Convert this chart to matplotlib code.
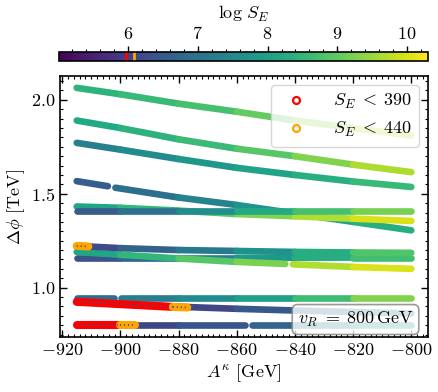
import numpy as np
import matplotlib
matplotlib.use("Agg")
import matplotlib.pyplot as plt
from matplotlib.collections import LineCollection
from matplotlib.lines import Line2D
from matplotlib.ticker import MultipleLocator

plt.rcParams.update({
    "font.family": "serif",
    "font.serif": ["cmr10"],
    "mathtext.fontset": "cm",
    "axes.formatter.use_mathtext": True,
    "font.size": 13,
})

# --- datos: A^kappa [GeV], Delta phi [TeV], log S_E ---
A = [-915, -900, -880, -860, -840, -820, -800]

dphi_1 = [2.064, 2.030, 1.980, 1.937, 1.890, 1.850, 1.810]
logS_1 = [8.35, 8.50, 8.65, 8.85, 9.20, 9.60, 9.90]

dphi_2 = [1.890, 1.850, 1.790, 1.740, 1.700, 1.655, 1.615]
logS_2 = [8.10, 8.30, 8.50, 8.70, 9.10, 9.50, 9.80]

dphi_3 = [1.771, 1.735, 1.685, 1.638, 1.600, 1.565, 1.536]
logS_3 = [7.20, 7.40, 7.70, 7.95, 8.20, 8.45, 8.70]

# rama con hueco en A ~ -903
A_4a = [-915, -904.3]
dphi_4a = [1.567, 1.540]
logS_4a = [6.50, 6.60]
A_4b = [-901.7, -880, -860, -840, -820, -800]
dphi_4b = [1.532, 1.480, 1.440, 1.395, 1.350, 1.305]
logS_4b = [6.75, 7.15, 7.60, 7.90, 8.20, 8.45]

dphi_5a = [1.432, 1.425, 1.410, 1.392, 1.380, 1.367, 1.355]
logS_5a = [8.00, 8.30, 8.70, 9.10, 9.50, 9.85, 10.10]

dphi_5b = [1.408, 1.408, 1.408, 1.408, 1.408, 1.408, 1.408]
logS_5b = [6.35, 6.70, 7.30, 7.90, 8.50, 9.00, 9.40]

dphi_6a = [1.222, 1.210, 1.200, 1.195, 1.190, 1.187, 1.185]
logS_6a = [6.00, 6.40, 6.90, 7.40, 8.00, 8.60, 9.10]

# rama con hueco en A ~ -842
A_6b1 = [-915, -900, -880, -860, -843.3]
dphi_6b1 = [1.190, 1.175, 1.155, 1.137, 1.126]
logS_6b1 = [8.00, 8.30, 8.70, 9.10, 9.40]
A_6b2 = [-840.7, -820, -800]
dphi_6b2 = [1.124, 1.110, 1.100]
logS_6b2 = [9.50, 9.85, 10.15]

dphi_6c = [1.158, 1.158, 1.158, 1.158, 1.159, 1.160, 1.160]
logS_6c = [6.20, 6.50, 7.00, 7.60, 8.10, 8.50, 8.90]

# rama con hueco en A ~ -901
A_7a1 = [-915, -902.3]
dphi_7a1 = [0.945, 0.945]
logS_7a1 = [6.80, 6.90]
A_7a2 = [-899.7, -880, -860, -840, -820, -800]
dphi_7a2 = [0.945, 0.945, 0.945, 0.945, 0.945, 0.945]
logS_7a2 = [7.10, 7.40, 7.70, 8.30, 9.00, 9.60]

dphi_7b = [0.924, 0.912, 0.898, 0.887, 0.878, 0.870, 0.862]
logS_7b = [5.40, 5.60, 5.95, 6.30, 6.60, 7.00, 7.40]

# rama con hueco en A ~ -856
A_8a = [-915, -900, -880, -857.3]
dphi_8a = [0.800, 0.800, 0.800, 0.800]
logS_8a = [5.30, 5.90, 6.30, 6.45]
A_8b = [-854.7, -840, -820, -800]
dphi_8b = [0.800, 0.800, 0.800, 0.800]
logS_8b = [6.50, 6.90, 7.50, 8.00]

# tramos con S_E < 390 (rojo) y S_E < 440 (naranja)
red_A = [[-915, -900], [-915, -882]]
red_dphi = [[0.800, 0.800], [0.924, 0.897]]
orange_A = [[-900, -895], [-882, -877], [-915, -911]]
orange_dphi = [[0.800, 0.800], [0.897, 0.894], [1.222, 1.219]]

S_CUT_RED = 390
S_CUT_ORANGE = 440
LOGS_MIN, LOGS_MAX = 5.01, 10.30

CURVES = [
    (A, dphi_1, logS_1), (A, dphi_2, logS_2), (A, dphi_3, logS_3),
    (A_4a, dphi_4a, logS_4a), (A_4b, dphi_4b, logS_4b),
    (A, dphi_5a, logS_5a), (A, dphi_5b, logS_5b),
    (A, dphi_6c, logS_6c), (A_6b1, dphi_6b1, logS_6b1), (A_6b2, dphi_6b2, logS_6b2),
    (A, dphi_6a, logS_6a),
    (A_7a1, dphi_7a1, logS_7a1), (A_7a2, dphi_7a2, logS_7a2),
    (A, dphi_7b, logS_7b),
    (A_8a, dphi_8a, logS_8a), (A_8b, dphi_8b, logS_8b),
]

norm = plt.Normalize(LOGS_MIN, LOGS_MAX)
cmap = plt.get_cmap("viridis")
LW = 4.8


def segments(x, y):
    pts = np.column_stack([x, y])
    return np.stack([pts[:-1], pts[1:]], axis=1)


def draw_curve(ax, x, y, s):
    s = np.asarray(s, dtype=float)
    lc = LineCollection(segments(x, y), cmap=cmap, norm=norm, linewidths=LW,
                        capstyle="round", joinstyle="round")
    lc.set_array((s[:-1] + s[1:]) / 2)
    ax.add_collection(lc)


def draw_band(ax, x, y, color):
    ax.plot(x, y, color=color, lw=LW + 1.0, solid_capstyle="round", zorder=3)
    ax.plot(x, y, color="#3b528b", lw=1.3, ls=(0, (0.6, 1.6)), zorder=4)


fig = plt.figure(figsize=(4.38, 3.92), dpi=100)
ax = fig.add_axes([60 / 438, 1 - 337 / 392, 368 / 438, 261 / 392])

for x, y, s in CURVES:
    draw_curve(ax, x, y, s)
for x, y in zip(red_A, red_dphi):
    draw_band(ax, x, y, "red")
for x, y in zip(orange_A, orange_dphi):
    draw_band(ax, x, y, "orange")

ax.margins(0.05)
ax.autoscale_view()

ax.xaxis.set_major_locator(MultipleLocator(20))
ax.xaxis.set_minor_locator(MultipleLocator(2))
ax.yaxis.set_major_locator(MultipleLocator(0.5))
ax.yaxis.set_minor_locator(MultipleLocator(0.05))
ax.tick_params(which="both", direction="in", top=True, right=True)
ax.tick_params(which="major", length=5, width=1)
ax.tick_params(which="minor", length=2.5, width=0.8)
for sp in ax.spines.values():
    sp.set_linewidth(1.2)

ax.set_xlabel(r"$A^{\kappa}$ [GeV]", labelpad=3)
ax.set_ylabel(r"$\Delta\phi$ [TeV]", labelpad=3)

handles = [
    Line2D([], [], ls="none", marker="o", ms=5, mfc="none", mec="red", mew=1.6,
           label=rf"$S_E \;<\; {S_CUT_RED}$"),
    Line2D([], [], ls="none", marker="o", ms=5, mfc="none", mec="orange", mew=1.6,
           label=rf"$S_E \;<\; {S_CUT_ORANGE}$"),
]
ax.legend(handles=handles, loc="upper right", handletextpad=1.0,
          fancybox=True, framealpha=0.8, edgecolor="0.8")

ax.text(0.803, 0.067, r"$v_R \;=\; 800\,\mathrm{GeV}$", transform=ax.transAxes,
        ha="center", va="center", zorder=6,
        bbox=dict(boxstyle="round,pad=0.3", fc="white", ec="gray", lw=1.2, alpha=0.8))

# barra de color arriba
cax = fig.add_axes([59 / 438, 1 - 61 / 392, 369 / 438, 9 / 392])
sm = plt.cm.ScalarMappable(norm=norm, cmap=cmap)
cb = fig.colorbar(sm, cax=cax, orientation="horizontal")
cax.axvline(np.log(S_CUT_RED), color="red", lw=2)
cax.axvline(np.log(S_CUT_ORANGE), color="orange", lw=2)
cax.xaxis.set_ticks_position("top")
cax.xaxis.set_label_position("top")
cax.xaxis.set_major_locator(MultipleLocator(1))
cax.xaxis.set_minor_locator(MultipleLocator(0.2))
cax.tick_params(which="major", direction="out", length=4, width=1)
cax.tick_params(which="minor", direction="out", length=2, width=0.8)
cb.outline.set_linewidth(1.2)
cb.set_label(r"$\log\,S_E$")

fig.savefig("out.png", dpi=100)
